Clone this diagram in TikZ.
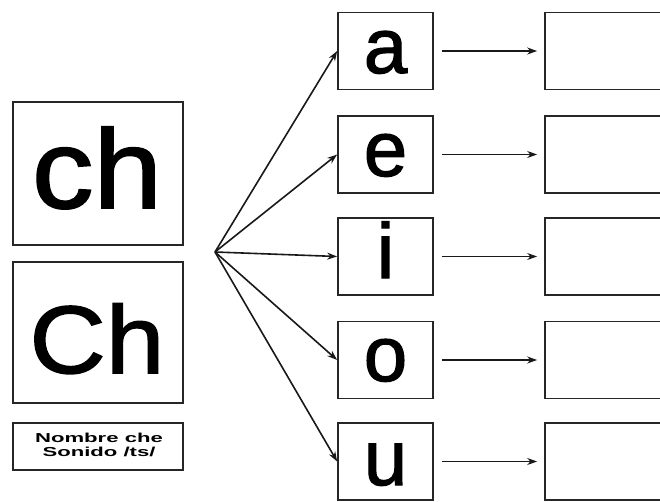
\documentclass[tikz,border=0pt]{standalone}
\usepackage{fontspec}
\setmainfont{Liberation Sans}
\newfontfamily\bigfont[FakeStretch=1.1,FakeBold=1.6]{Liberation Sans}
\newfontfamily\vowelfont[FakeBold=1.6]{Liberation Sans}
\newfontfamily\widefont[FakeStretch=1.7]{Liberation Sans}
\usetikzlibrary{arrows.meta}
\begin{document}
\begin{tikzpicture}[x=1pt,y=-1pt,
  box/.style={draw=black!85, line width=1.7pt, inner sep=0pt, fill=white},
  vbox/.style={box, minimum width=95pt, minimum height=77pt},
  rbox/.style={box, minimum width=140pt, minimum height=77pt},
  lbl/.style={inner sep=0pt, anchor=base},
  arr/.style={-{Stealth[length=10pt,width=7pt]}, line width=1.6pt, black!90},
]
\clip (0,0) rectangle (660,502);
\fill[white] (0,0) rectangle (660,502);

% left boxes
\node[box, minimum width=170pt, minimum height=143pt] (lower) at (98,173.5) {};
\node[lbl, font=\bigfont\fontsize{112}{112}\selectfont] (lowertxt) at (97,208) {ch};
\node[box, minimum width=170pt, minimum height=141pt] (upper) at (98,332.5) {};
\node[lbl, font=\bigfont\fontsize{96}{96}\selectfont] (uppertxt) at (97,373) {Ch};
\node[box, minimum width=170pt, minimum height=47pt] (note) at (98,446.5) {};
\node[lbl, font=\widefont\bfseries\fontsize{13}{13}\selectfont] (note1) at (99,442) {Nombre che};
\node[lbl, font=\widefont\bfseries\fontsize{13}{13}\selectfont] (note2) at (99,456) {Sonido /ts/};

\coordinate (fan) at (215,252);

% vowel boxes
\foreach \n/\y/\b in {a/51/73, e/154.5/176, i/256.5/278, o/360/381, u/461.5/485}{
  \node[vbox] (v\n) at (385.5,\y) {};
  \node[lbl, font=\vowelfont\fontsize{78}{78}\selectfont] (t\n) at (385.5,\b) {\n};
  \node[rbox] (r\n) at (615,\y) {};
  \draw[arr] (fan) -- (v\n.west);
  \draw[arr, shorten <=8pt, shorten >=7pt] (v\n.east) -- (r\n.west);
}
\end{tikzpicture}
\end{document}
